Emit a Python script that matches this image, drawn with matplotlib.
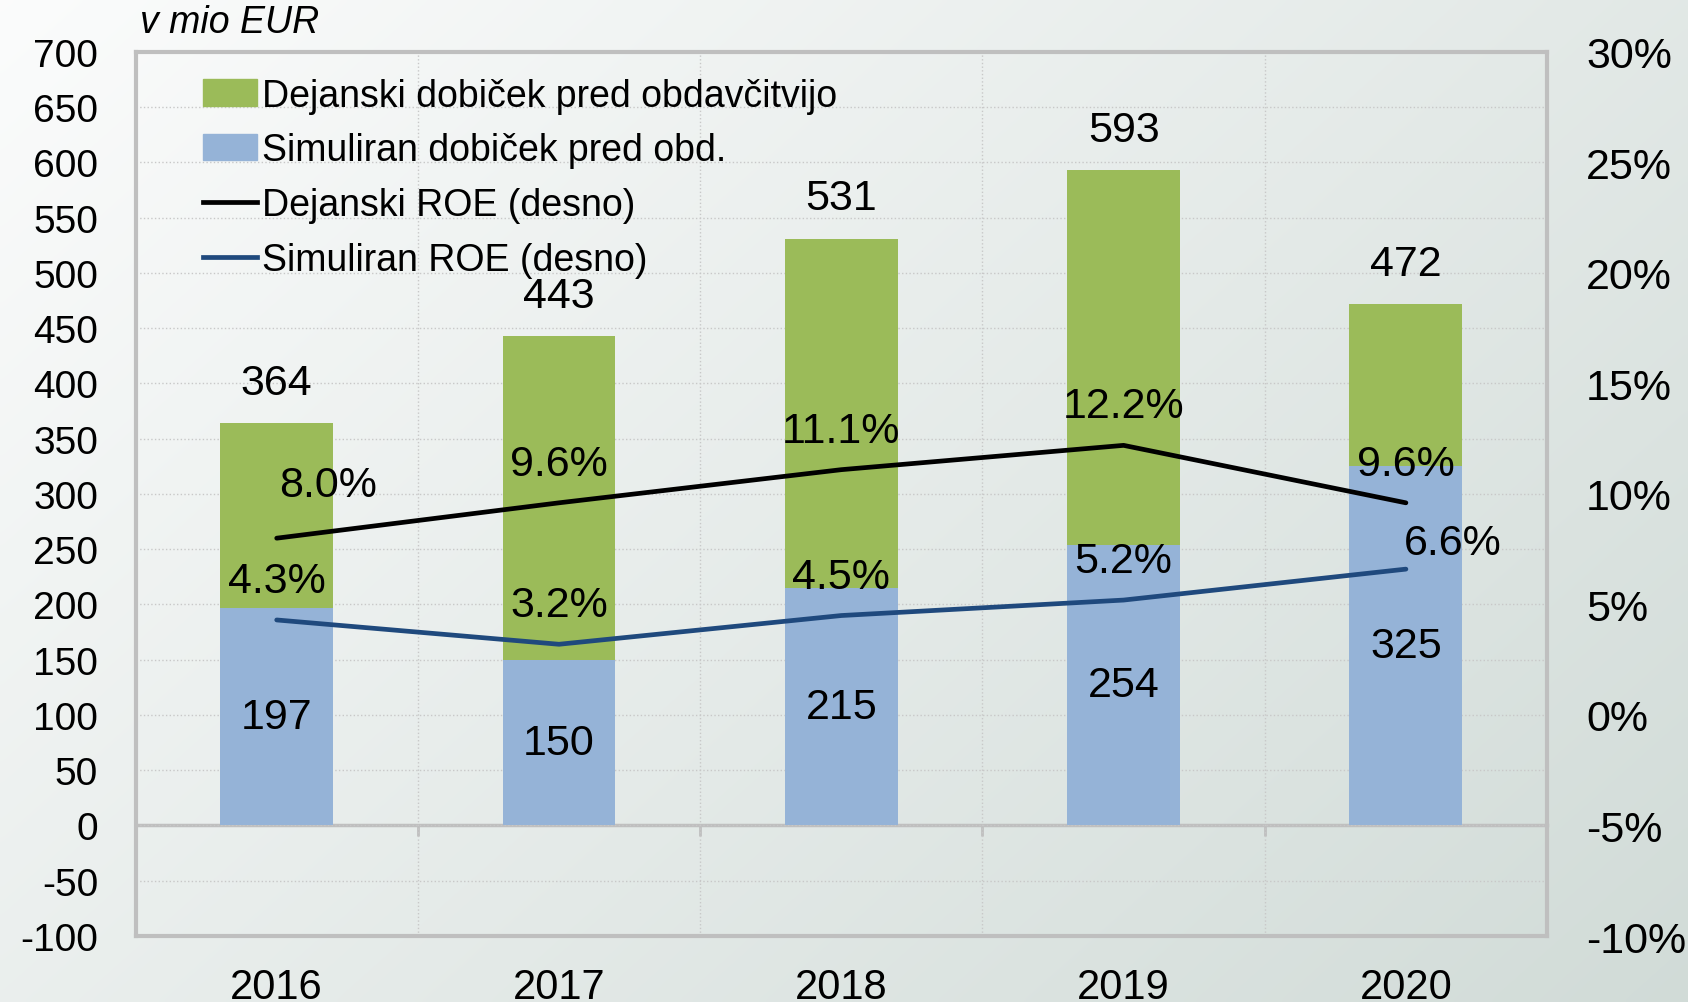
#!/usr/bin/env python3
"""Dejanski vs simuliran dobicek pred obdavcitvijo in ROE."""

import numpy as np
import matplotlib

matplotlib.use("Agg")
import matplotlib.pyplot as plt
from matplotlib.patches import Patch
from matplotlib.lines import Line2D

years = ["2016", "2017", "2018", "2019", "2020"]
actual_profit = [364, 443, 531, 593, 472]
sim_profit = [197, 150, 215, 254, 325]
actual_roe = [8.0, 9.6, 11.1, 12.2, 9.6]
sim_roe = [4.3, 3.2, 4.5, 5.2, 6.6]

left_ticks = list(range(-100, 701, 50))
right_ticks = list(range(-10, 31, 5))

GREEN = "#9BBB59"
BLUE = "#95B3D7"
NAVY = "#1F497D"
FRAME = "#BFBFBF"
GRID = "#C8C8C8"

plt.rcParams["font.family"] = ["Liberation Sans", "DejaVu Sans"]
plt.rcParams["axes.unicode_minus"] = False

fig = plt.figure(figsize=(16.88, 10.03), dpi=100)

# diagonal gradient background
bg = fig.add_axes([0, 0, 1, 1], zorder=-10)
h, w = 200, 340
yy, xx = np.mgrid[0:h, 0:w]
t = (xx / (w - 1) * 0.6 + yy / (h - 1) * 0.4)
c0 = np.array([0.985, 0.988, 0.988])
c1 = np.array([0.82, 0.86, 0.845])
img = c0[None, None, :] * (1 - t[..., None]) + c1[None, None, :] * t[..., None]
bg.imshow(img, aspect="auto", extent=[0, 1, 0, 1], interpolation="bicubic")
bg.set_axis_off()

ax = fig.add_axes([0.0803, 0.0658, 0.8362, 0.8814])
ax.patch.set_alpha(0)
x = np.arange(len(years))

ax.bar(x, actual_profit, width=0.4, color=GREEN, zorder=2)
sim_bars = ax.bar(x, sim_profit, width=0.4, color=BLUE, zorder=3)

ax.set_xlim(-0.5, len(years) - 0.5)
ax.set_ylim(-100, 700)
ax.set_yticks(left_ticks)
ax.tick_params(axis="y", length=0, pad=27, labelsize=28)
ax.set_xticks(x)
ax.set_xticklabels(years)
ax.tick_params(axis="x", length=0, pad=22, labelsize=30)
ax.set_xticks(x[:-1] + 0.5, minor=True)
ax.tick_params(axis="x", which="minor", length=0)
ax.grid(axis="y", which="major", color=GRID, linestyle=":", linewidth=1)
ax.grid(axis="x", which="minor", color=GRID, linestyle=":", linewidth=1)
ax.set_axisbelow(True)
for sp in ax.spines.values():
    sp.set_color(FRAME)
    sp.set_linewidth(3)

# category axis at zero with small outward ticks
sec = ax.secondary_xaxis(100 / 800)
sec.set_xticks(x[:-1] + 0.5)
sec.set_xticklabels([])
sec.tick_params(axis="x", direction="out", length=8, width=2, color=FRAME)
sec.spines["bottom"].set_color(FRAME)
sec.spines["bottom"].set_linewidth(2.5)

ax.bar_label(sim_bars, labels=[str(v) for v in sim_profit], label_type="center",
             fontsize=31)
for xi, v in zip(x, actual_profit):
    ax.annotate(str(v), (xi, v), xytext=(0, 29), textcoords="offset points",
                ha="center", va="center", fontsize=31, zorder=5)

ax2 = ax.twinx()
ax2.set_ylim(-10, 30)
ax2.set_yticks(right_ticks)
ax2.set_yticklabels([f"{v}%" for v in right_ticks])
ax2.tick_params(axis="y", length=0, pad=28, labelsize=31)
for sp in ax2.spines.values():
    sp.set_visible(False)

ax2.plot(x, actual_roe, color="black", lw=3.4, solid_capstyle="round", zorder=4)
ax2.plot(x, sim_roe, color=NAVY, lw=3.4, solid_capstyle="round", zorder=4)

actual_off = [(37, 38), (0, 28), (0, 28), (0, 28), (0, 28)]
sim_off = [(0, 28), (0, 28), (0, 28), (0, 28), (34, 19)]
for xi, v, off in zip(x, actual_roe, actual_off):
    ax2.annotate(f"{v:.1f}%", (xi, v), xytext=off, textcoords="offset points",
                 ha="center", va="center", fontsize=31)
for xi, v, off in zip(x, sim_roe, sim_off):
    ax2.annotate(f"{v:.1f}%", (xi, v), xytext=off, textcoords="offset points",
                 ha="center", va="center", fontsize=31)

handles = [
    Patch(color=GREEN, label="Dejanski dobiček pred obdavčitvijo"),
    Patch(color=BLUE, label="Simuliran dobiček pred obd."),
    Line2D([], [], color="black", lw=3.4, label="Dejanski ROE (desno)"),
    Line2D([], [], color=NAVY, lw=3.4, label="Simuliran ROE (desno)"),
]
ax2.legend(handles=handles, loc="upper left", bbox_to_anchor=(0.037, 0.988),
           frameon=False, fontsize=27, handlelength=1.45, handletextpad=0.12,
           labelspacing=0.5, borderaxespad=0)

fig.text(0.083, 0.977, "v mio EUR", fontsize=27, style="italic",
         ha="left", va="center")

fig.savefig("out.png", dpi=100)
